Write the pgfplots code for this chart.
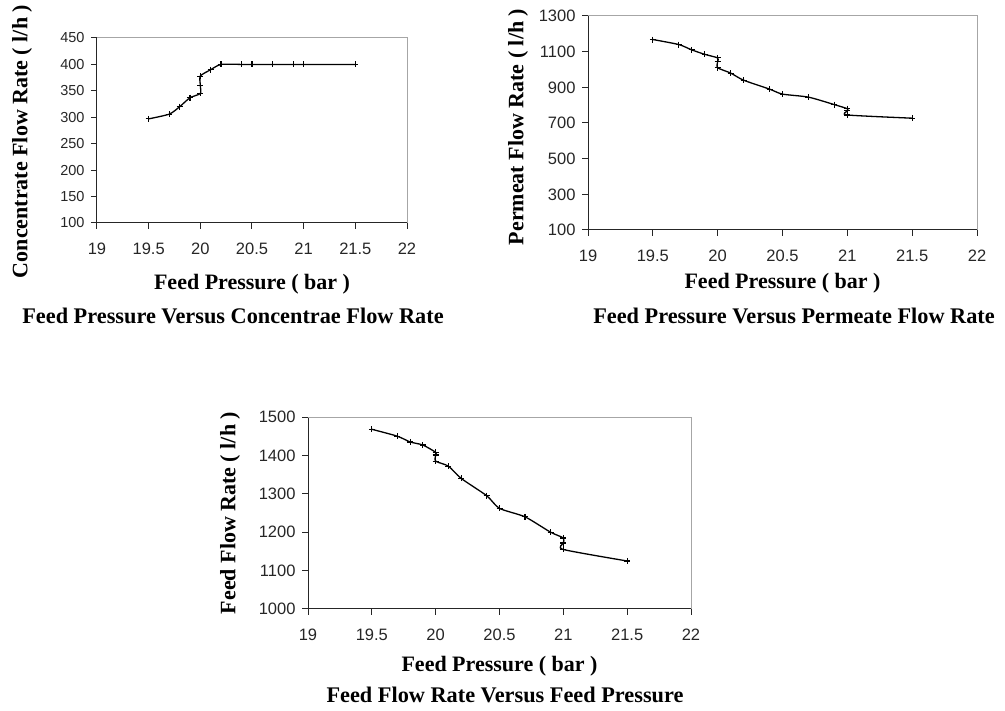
\documentclass[border=0pt]{standalone}
\usepackage{fontspec}
\setmainfont{Liberation Serif}
\setsansfont{Liberation Sans}
\usepackage{pgfplots}
\pgfplotsset{compat=1.18}

\pgfplotsset{
  rochart/.style={
    scale only axis,
    anchor=north west,
    axis x line*=bottom, axis y line*=left,
    axis line style={black!85, line width=1pt},
    tick align=outside, major tick length=6pt,
    tick style={black!85, line width=1pt},
    xmin=19, xmax=22, xtick={19,19.5,20,20.5,21,21.5,22},
    scaled ticks=false,
    /pgf/number format/1000 sep={},
    /pgf/number format/assume math mode=true,
    tick label style={font=\sffamily\fontsize{16.5}{16.5}\selectfont, text=black!85},
    xticklabel style={anchor=center, yshift=-20pt},
    yticklabel style={anchor=east, xshift=-3pt},
    label style={font=\bfseries\fontsize{22}{22}\selectfont},
    after end axis/.code={\draw[gray!70, line width=1pt] (rel axis cs:0,1) -- (rel axis cs:1,1) -- (rel axis cs:1,0);},
  },
  rodata/.style={black, line width=1.3pt, smooth, tension=0.4, mark=+, mark size=3pt, mark options={line width=1.1pt}},
}

\begin{document}
\begin{tikzpicture}
\useasboundingbox (0,0) rectangle (1005pt,-711pt);

% concentrate flow
\begin{axis}[rochart,
  at={(97pt,-38pt)}, width=310pt, height=185pt,
  ymin=100, ymax=450, ytick={100,150,...,450},
  yticklabel style={font=\sffamily\fontsize{14.5}{14.5}\selectfont},
  xlabel={Feed Pressure ( bar )},
  xlabel style={at={([yshift=-61pt]axis description cs:0.5,0)}, anchor=center},
  ylabel={Concentrate Flow Rate ( l/h )},
  ylabel style={at={([xshift=-75pt,yshift=-11pt]axis description cs:0,0.5)}, anchor=center},
]
\addplot[rodata] coordinates {
  (19.5,297)(19.7,306)(19.8,320)(19.9,337)(20,345)(20,360)(20,378)(20.1,390)
  (20.2,400)(20.4,400)(20.5,400)(20.7,400)(20.9,400)(21,400)(21.5,400)
};
\end{axis}

% permeate flow
\begin{axis}[rochart,
  at={(588pt,-16pt)}, width=389pt, height=214pt,
  ymin=100, ymax=1300, ytick={100,300,...,1300},
  xlabel={Feed Pressure ( bar )},
  xlabel style={at={([yshift=-53pt]axis description cs:0.5,0)}, anchor=center},
  ylabel={Permeat Flow Rate ( l/h )},
  ylabel style={at={([xshift=-70pt,yshift=-4pt]axis description cs:0,0.5)}, anchor=center},
]
\addplot[rodata] coordinates {
  (19.5,1168)(19.7,1140)(19.8,1110)(19.9,1085)(20,1065)(20,1045)(20,1010)
  (20.1,980)(20.2,940)(20.4,890)(20.5,862)(20.7,845)(20.9,803)(21,780)
  (21,768)(21,745)(21.5,727)
};
\end{axis}

% feed flow
\begin{axis}[rochart,
  at={(308pt,-417pt)}, width=383pt, height=192pt,
  ymin=1000, ymax=1500, ytick={1000,1100,...,1500},
  xlabel={Feed Pressure ( bar )},
  xlabel style={at={([yshift=-57pt]axis description cs:0.5,0)}, anchor=center},
  ylabel={Feed Flow Rate ( l/h )},
  ylabel style={at={([xshift=-78pt]axis description cs:0,0.5)}, anchor=center},
]
\addplot[rodata] coordinates {
  (19.5,1468)(19.7,1450)(19.8,1435)(19.9,1427)(20,1408)(20,1401)(20,1385)
  (20.1,1372)(20.2,1340)(20.4,1295)(20.5,1262)(20.7,1240)(20.9,1200)
  (21,1185)(21,1172)(21,1155)(21.5,1125)
};
\end{axis}

\begin{scope}[every node/.style={font=\bfseries\fontsize{22.3}{22.3}\selectfont}]
\node at (233pt,-316pt) {Feed Pressure Versus Concentrae Flow Rate};
\node at (794pt,-316pt) {Feed Pressure Versus Permeate Flow Rate};
\node at (505pt,-695pt) {Feed Flow Rate Versus Feed Pressure};
\end{scope}
\end{tikzpicture}
\end{document}
